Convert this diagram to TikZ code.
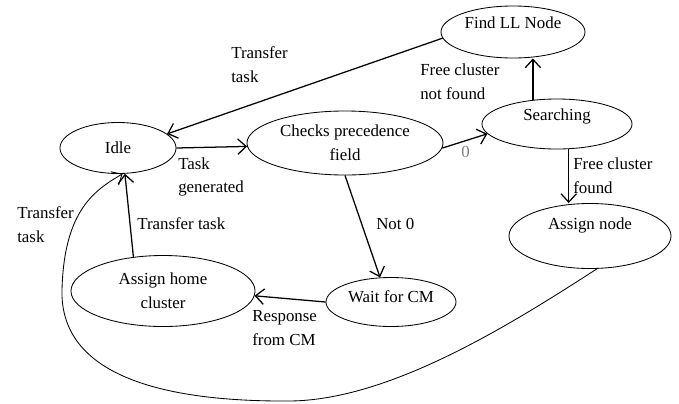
\documentclass[tikz,border=0pt]{standalone}
\usepackage{fontspec}
\setmainfont{Liberation Serif}
\usetikzlibrary{shapes.geometric,arrows.meta}

\tikzset{
  state/.style={draw, ellipse, line width=0.6pt, inner sep=0pt},
  flow/.style={->, line width=0.9pt},
  note/.style={anchor=west, align=left, inner sep=0pt},
  >={Straight Barb[length=6pt,width=11pt]},
}

\begin{document}
\begin{tikzpicture}[x=0.025cm, y=-0.025cm, font=\rmfamily\fontsize{12}{17}\selectfont]
	\useasboundingbox (0,0) rectangle (679,403);

	% states
	\node[state, minimum width=2.9cm, minimum height=1.275cm] (idle) at (118,148) {Idle};
	\node[state, minimum width=4.9cm, minimum height=1.6cm, align=center] (checks) at (345,143) {Checks precedence\\field};
	\node[state, minimum width=3.6cm, minimum height=1.3cm, label={[yshift=6.4pt]center:Find LL Node}] (find) at (513,32) {};
	\node[state, minimum width=3.75cm, minimum height=1.25cm, label={[yshift=5.7pt]center:Searching}] (searching) at (557,124) {};
	\node[state, minimum width=4.05cm, minimum height=1.625cm, label={[yshift=7.8pt]center:Assign node}] (assign) at (590,236) {};
	\node[state, minimum width=3.25cm, minimum height=1.225cm, label={[yshift=3.5pt]center:Wait for CM}] (wait) at (391,302) {};
	\node[state, minimum width=4.6cm, minimum height=1.775cm, align=center] (home) at (163,291) {Assign home\\cluster};

	% transitions
	\draw[flow] (find.185) -- (idle.16);
	\draw[flow] (idle.east) -- (checks.182);
	\draw[flow] (checks.-3) -- (searching.188);
	\draw[flow] (searching.135) -- (searching.135 |- find.south);
	\draw[flow] (searching.-65) -- (searching.-65 |- assign.north);
	\draw[flow] (checks.south) -- (wait.114);
	\draw[flow] (wait.west) -- (home.-3);
	\draw[flow] (home.131) -- (idle.285);
	\draw[->, line width=0.6pt] (assign.282) .. controls (510,325) and (390,400) .. (290,401)
		.. controls (150,402) and (60,370) .. (62,290)
		.. controls (64,210) and (95,190) .. (idle.280);

	% labels
	\node[note] (lfind) at (231,65) {Transfer\\task};
	\node[note] (lgen) at (178,177) {Task\\generated};
	\node[note, text=gray] (lzero) at (461,152) {0};
	\node[note] (lnot) at (420,82) {Free cluster\\not found};
	\node[note] (lfound) at (573,176) {Free cluster\\found};
	\node[note] (lnotzero) at (376,224) {Not 0};
	\node[note] (lhome) at (137,224) {Transfer task};
	\node[note] (lcurve) at (17,225) {Transfer\\task};
	\node[note] (lresp) at (252,328) {Response\\from CM};
\end{tikzpicture}
\end{document}
